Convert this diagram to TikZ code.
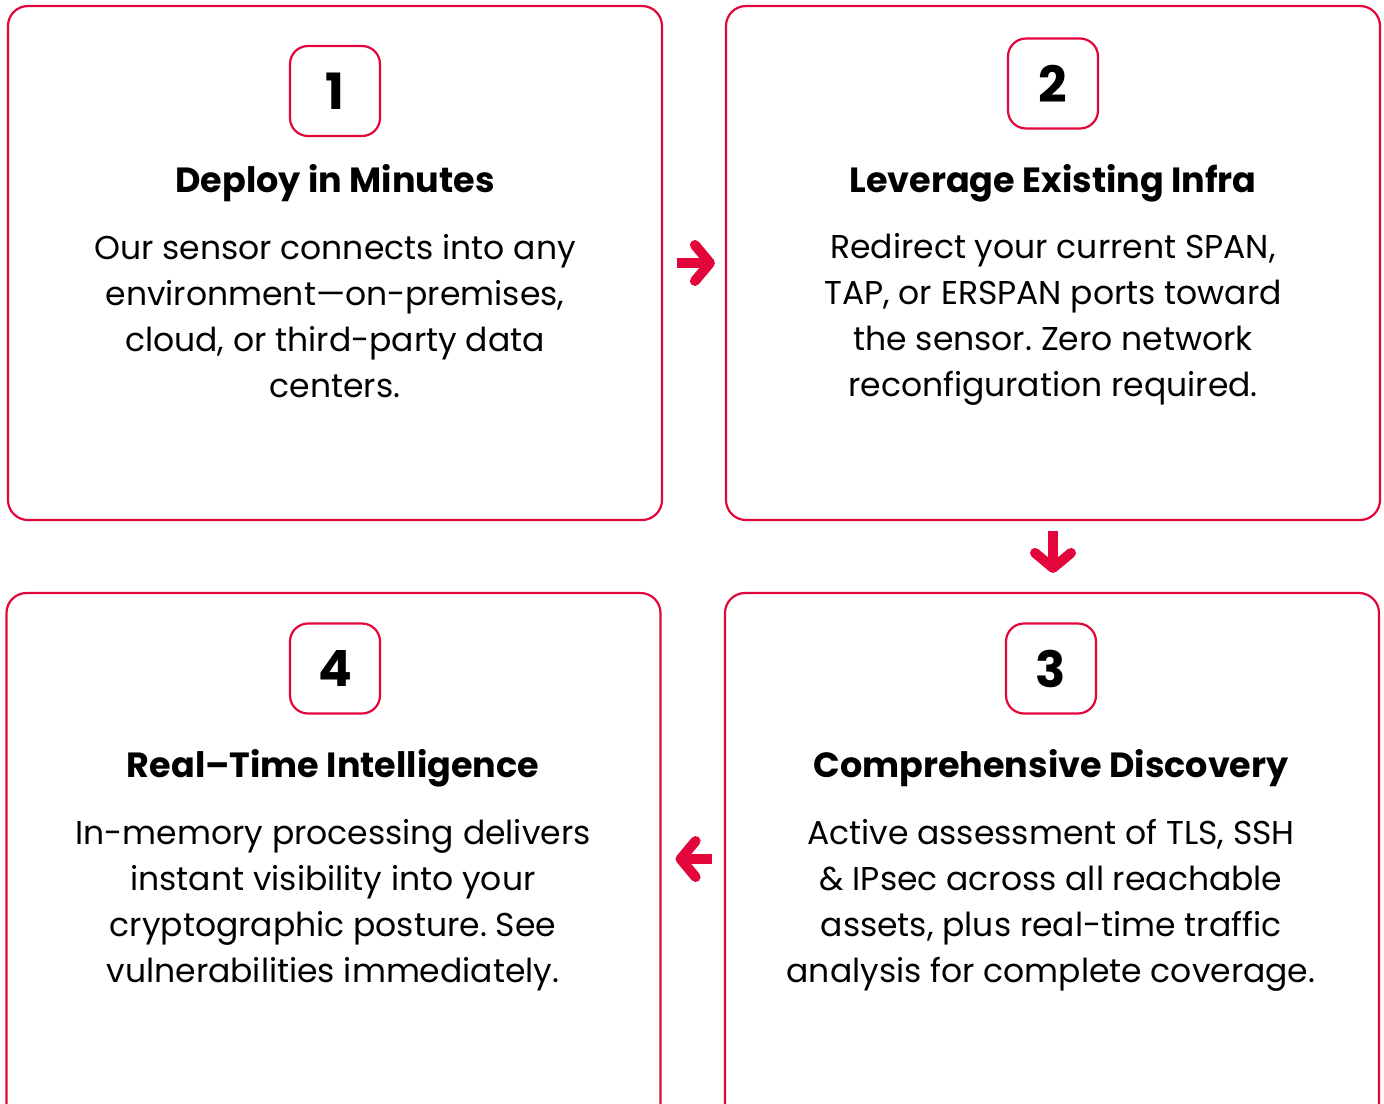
\documentclass[tikz,border=0pt]{standalone}
\usepackage{fontspec}
\setmainfont{Poppins}
\usetikzlibrary{arrows.meta,positioning}

\definecolor{accent}{RGB}{227,6,58}

\tikzset{
	card/.style={draw=accent, line width=1.1pt, rounded corners=10pt,
		minimum width=327pt, minimum height=257pt},
	tallcard/.style={card, minimum height=266pt},
	numbox/.style={draw=accent, line width=1.1pt, rounded corners=9pt,
		minimum width=45pt, minimum height=45pt, font=\fontsize{25}{25}\selectfont\bfseries},
	title/.style={font=\fontsize{17.5}{20}\selectfont\bfseries},
	body/.style={align=center, font=\fontsize{16.5}{23}\selectfont},
	flow/.style={draw=accent, line width=5pt,
		-{Straight Barb[length=7.5pt,width=18pt,round]}}
}

\begin{document}
\frenchspacing
\begin{tikzpicture}[x=0.5pt,y=-0.5pt]
	\useasboundingbox (0,0) rectangle (1384,1103);
	\begin{scope}
	\clip (0,0) rectangle (1384,1103);

	% Cards
	\node[card] (b1) at (335,263) {};
	\node[card] (b2) at (1053,263) {};
	\node[tallcard] (b4) at (333.5,859) {};
	\node[tallcard] (b3) at (1052,859) {};
	\end{scope}

	% Step 1
	\node[numbox] (n1) at (335,91) {1};
	\node[title] (t1) at (335,183) {Deploy in Minutes};
	\node[body] (d1) at (335,316) {Our sensor connects into any\\
		environment—on-premises,\\ cloud, or third-party data\\ centers.};

	% Step 2
	\node[numbox] (n2) at (1053,83.5) {2};
	\node[title] (t2) at (1053,183) {Leverage Existing Infra};
	\node[body] (d2) at (1053,319) {Redirect your current SPAN,\\
		TAP, or ERSPAN ports toward\\ the sensor. Zero network\\ reconfiguration required.};

	% Step 3
	\node[numbox] (n3) at (1051,668.5) {3};
	\node[title] (t3) at (1051,768) {Comprehensive Discovery};
	\node[body] (d3) at (1051,905) {Active assessment of TLS, SSH\\
		\& IPsec across all reachable\\ assets, plus real-time traffic\\ analysis for complete coverage.};

	% Step 4
	\node[numbox] (n4) at (335,668.5) {4};
	\node[title] (t4) at (333,768) {Real–Time Intelligence};
	\node[body] (d4) at (333,905) {In-memory processing delivers\\
		instant visibility into your\\ cryptographic posture. See\\ vulnerabilities immediately.};

	% Flow between cards
	\draw[flow, shorten <=7pt, shorten >=5pt] (b1.east) -- (b2.west);
	\draw[flow, shorten <=5pt, shorten >=9.5pt] (b2.south) -- (b2.south |- b3.north);
	\draw[flow, shorten <=6pt, shorten >=7pt] (b3.west) -- (b4.east);

\end{tikzpicture}
\end{document}
